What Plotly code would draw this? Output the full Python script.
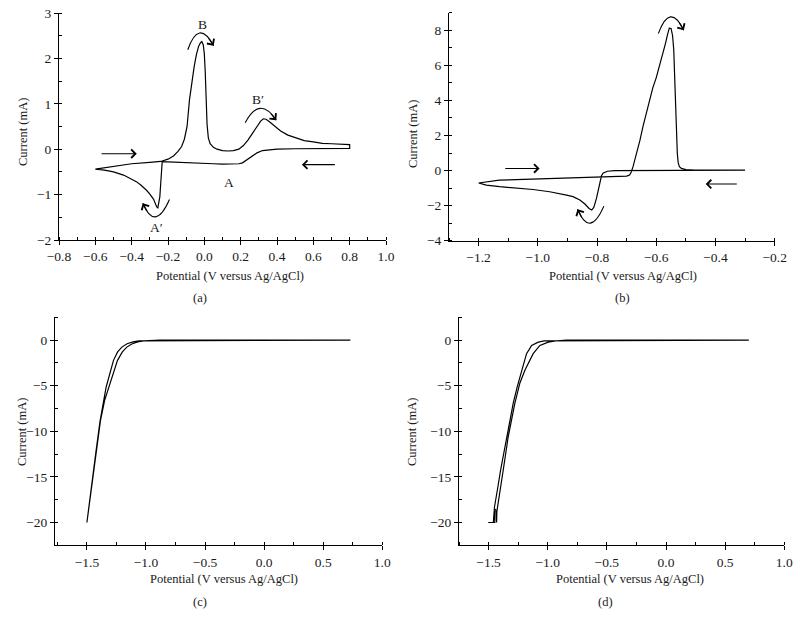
import plotly.graph_objects as go

# ---------------- data ----------------
# (a) cyclic voltammogram
a_fwd_x = [-0.6, -0.5, -0.4, -0.3, -0.24, -0.2, -0.17, -0.145, -0.125, -0.11, -0.095, -0.082, -0.068,
           -0.056, -0.044, -0.032, -0.022, -0.014, -0.006, 0.0, 0.005, 0.01, 0.015, 0.022, 0.032, 0.05,
           0.07, 0.1, 0.13, 0.16, 0.19, 0.215, 0.24, 0.265, 0.29, 0.31, 0.325, 0.34, 0.36, 0.39, 0.42,
           0.46, 0.5, 0.55, 0.6, 0.65, 0.7, 0.75, 0.8]
a_fwd_y = [-0.44, -0.38, -0.32, -0.29, -0.27, -0.22, -0.15, -0.05, 0.06, 0.22, 0.5, 1.08, 1.5,
           1.82, 2.08, 2.26, 2.34, 2.37, 2.3, 2.1, 1.7, 1.08, 0.55, 0.25, 0.12, 0.04,
           0.0, -0.03, -0.04, -0.03, 0.0, 0.08, 0.2, 0.35, 0.5, 0.62, 0.67, 0.66, 0.6, 0.49, 0.4,
           0.31, 0.25, 0.19, 0.16, 0.13, 0.12, 0.11, 0.1]
a_rev_x = [0.8, 0.7, 0.6, 0.5, 0.4, 0.35, 0.32, 0.29, 0.26, 0.234, 0.21, 0.19, 0.15, 0.1, 0.05, 0.0,
           -0.05, -0.1, -0.15, -0.2, -0.232, -0.236, -0.24, -0.245, -0.25, -0.256, -0.262, -0.27,
           -0.28, -0.3, -0.317, -0.35, -0.372, -0.4, -0.445, -0.5, -0.55, -0.6]
a_rev_y = [0.02, 0.02, 0.01, 0.01, 0.0, -0.01, -0.03, -0.08, -0.16, -0.24, -0.3, -0.32, -0.33, -0.33,
           -0.32, -0.31, -0.3, -0.3, -0.29, -0.28, -0.28, -0.45, -0.75, -1.05, -1.22, -1.29, -1.27,
           -1.2, -1.1, -0.99, -0.91, -0.79, -0.72, -0.66, -0.57, -0.5, -0.46, -0.44]

# (b) cyclic voltammogram
b_fwd_x = [-1.2, -1.13, -1.02, -0.9, -0.79, -0.72, -0.7, -0.69, -0.684, -0.678, -0.672, -0.664, -0.655,
           -0.645, -0.634, -0.624, -0.612, -0.6, -0.59, -0.58, -0.569, -0.562, -0.556, -0.55, -0.545,
           -0.541, -0.538, -0.535, -0.532, -0.529, -0.526, -0.522, -0.515, -0.5, -0.47, -0.4, -0.3]
b_fwd_y = [-0.71, -0.55, -0.49, -0.43, -0.39, -0.35, -0.32, -0.25, -0.07, 0.25, 0.6, 1.1, 1.73,
           2.5, 3.25, 4.0, 4.7, 5.3, 5.9, 6.6, 7.24, 7.75, 8.12, 8.1, 7.7,
           6.9, 5.7, 4.2, 2.5, 1.0, 0.45, 0.22, 0.12, 0.06, 0.03, 0.02, 0.02]
b_rev_x = [-0.3, -0.4, -0.5, -0.6, -0.7, -0.74, -0.765, -0.774, -0.78, -0.785, -0.793, -0.802, -0.811,
           -0.818, -0.827, -0.841, -0.858, -0.881, -0.903, -0.96, -1.016, -1.073, -1.129, -1.174, -1.2]
b_rev_y = [0.02, 0.02, 0.02, 0.01, 0.0, -0.01, -0.04, -0.08, -0.15, -0.3, -0.92, -1.59, -2.1,
           -2.25, -2.16, -1.91, -1.68, -1.49, -1.4, -1.21, -1.08, -1.02, -0.92, -0.83, -0.71]

# (c) linear sweep, two branches
c_br1_x = [0.73, 0.2, -0.3, -0.7, -0.9, -1.0, -1.06, -1.11, -1.16, -1.204, -1.24, -1.275, -1.305,
           -1.337, -1.36, -1.39, -1.425, -1.465, -1.5]
c_br1_y = [0, 0, 0, 0, 0, -0.03, -0.08, -0.2, -0.4, -0.77, -1.3, -2.22, -3.5,
           -5.14, -6.8, -9.0, -12.4, -16.2, -20]
c_br2_x = [-1.5, -1.465, -1.425, -1.385, -1.35, -1.314, -1.28, -1.241, -1.2, -1.162, -1.12, -1.07,
           -1.02, -0.96, -0.88, -0.7, -0.3, 0.2, 0.73]
c_br2_y = [-20, -16.3, -12.5, -8.8, -6.6, -5.14, -3.7, -2.22, -1.3, -0.77, -0.42, -0.2,
           -0.09, -0.03, 0, 0, 0, 0, 0]

# (d) linear sweep, two branches
d_br1_x = [0.7, 0.0, -0.6, -0.9, -0.98, -1.03, -1.08, -1.136, -1.179, -1.221, -1.258, -1.292, -1.348,
           -1.398, -1.42, -1.45, -1.46, -1.503]
d_br1_y = [0, 0, 0, 0, -0.02, -0.08, -0.22, -0.58, -1.49, -3.31, -5.13, -6.95, -10.6,
           -14.24, -16.0, -18.3, -20, -20]
d_br2_x = [-1.503, -1.447, -1.452, -1.44, -1.432, -1.43, -1.376, -1.334, -1.278, -1.241, -1.235,
           -1.193, -1.123, -1.066, -0.996, -0.92, -0.84, -0.6, 0.0, 0.7]
d_br2_y = [-20, -20, -18.5, -18.6, -20, -18.8, -14.24, -10.6, -6.95, -5.13, -4.7,
           -3.31, -1.49, -0.58, -0.22, -0.07, -0.01, 0, 0, 0]

x_title = "Potential (V versus Ag/AgCl)"
y_title = "Current (mA)"
panel_labels = ["(a)", "(b)", "(c)", "(d)"]

# ---------------- figure ----------------
W, H = 800, 618
FONT = "Liberation Serif, Times New Roman, serif"
TXT = "#1a1a1a"


def px(x):
    return x / W


def py(y):
    return 1 - y / H


fig = go.Figure()
series = [
    (a_fwd_x + a_rev_x, a_fwd_y + a_rev_y, "x", "y"),
    (b_fwd_x + b_rev_x, b_fwd_y + b_rev_y, "x2", "y2"),
    (c_br1_x + c_br2_x, c_br1_y + c_br2_y, "x3", "y3"),
    (d_br1_x + d_br2_x, d_br1_y + d_br2_y, "x4", "y4"),
]
for xs, ys, xa, ya in series:
    fig.add_trace(go.Scatter(x=xs, y=ys, mode="lines", xaxis=xa, yaxis=ya,
                             line=dict(color="black", width=1.2), showlegend=False,
                             hoverinfo="skip"))


def axis(domain, rng, dtick, minor_dtick, anchor, tick0=0, fmt=None):
    d = dict(domain=domain, range=rng, anchor=anchor, showgrid=False, zeroline=False,
             automargin=False,
             showline=True, linecolor="black", linewidth=1, ticks="outside", ticklen=4,
             tickcolor="black", tickwidth=1, tick0=tick0, dtick=dtick,
             minor=dict(ticks="inside", ticklen=3, dtick=minor_dtick, tickcolor="black",
                        showgrid=False),
             tickfont=dict(family=FONT, size=13.5, color=TXT), fixedrange=True)
    if fmt:
        d["tickformat"] = fmt
    return d


fig.update_layout(
    width=W, height=H, margin=dict(l=0, r=0, t=0, b=0, autoexpand=False),
    paper_bgcolor="white", plot_bgcolor="white",
    xaxis=axis([px(59), px(386)], [-0.8, 1.0], 0.2, 0.1, "y", fmt=".1f"),
    yaxis=axis([py(240), py(13)], [-2, 3], 1, 0.5, "x"),
    xaxis2=axis([px(449), px(774.7)], [-1.3, -0.2], 0.2, 0.1, "y2", tick0=-1.2, fmt=".1f"),
    yaxis2=axis([py(240.7), py(12.7)], [-4, 9], 2, 1, "x2"),
    xaxis3=axis([px(55), px(382.3)], [-1.77, 1.0], 0.5, 0.25, "y3", fmt=".1f"),
    yaxis3=axis([py(545.3), py(317.3)], [-22.5, 2.5], 5, 2.5, "x3"),
    xaxis4=axis([px(459), px(784.3)], [-1.75, 1.0], 0.5, 0.25, "y4", fmt=".1f"),
    yaxis4=axis([py(545.3), py(317.3)], [-22.5, 2.5], 5, 2.5, "x4"),
)

annotations = []
shapes = []


def label(text, x, y, size=12.5, angle=0):
    annotations.append(dict(text=text, x=px(x), y=py(y), xref="paper", yref="paper",
                            showarrow=False, textangle=angle,
                            font=dict(family=FONT, size=size, color=TXT),
                            xanchor="center", yanchor="middle"))


# axis titles and panel labels
x_title_pos = [(230, 276), (623, 276), (224, 579), (630, 579)]
y_title_pos = [(23, 132), (413, 134), (22, 432), (412, 432)]
panel_pos = [(200, 298), (622, 298), (200, 602), (605, 602)]
for (xx, yy) in x_title_pos:
    label(x_title, xx, yy)
for (xx, yy) in y_title_pos:
    label(y_title, xx, yy, angle=-90)
for t, (xx, yy) in zip(panel_labels, panel_pos):
    label(t, xx, yy)


def data_text(text, x, y, xr, yr):
    annotations.append(dict(text=text, x=x, y=y, xref=xr, yref=yr, showarrow=False,
                            font=dict(family=FONT, size=13.5, color=TXT)))


def straight_arrow(x0, y0, x1, y1, xr, yr):
    annotations.append(dict(text="", x=x1, y=y1, ax=x0, ay=y0, xref=xr, yref=yr,
                            axref=xr, ayref=yr, showarrow=True, arrowhead=4,
                            arrowsize=1.5, arrowwidth=1.1, arrowcolor="black"))


def curved_arrow(p0, top, p1, xr, yr):
    cx = 2 * top[0] - (p0[0] + p1[0]) / 2
    cy = 2 * top[1] - (p0[1] + p1[1]) / 2
    shapes.append(dict(type="path", xref=xr, yref=yr,
                       path=f"M {p0[0]},{p0[1]} Q {cx},{cy} {p1[0]},{p1[1]}",
                       line=dict(color="black", width=1.1)))
    t = 0.8
    bx = (1 - t) ** 2 * p0[0] + 2 * (1 - t) * t * cx + t ** 2 * p1[0]
    by = (1 - t) ** 2 * p0[1] + 2 * (1 - t) * t * cy + t ** 2 * p1[1]
    annotations.append(dict(text="", x=p1[0], y=p1[1], ax=bx, ay=by, xref=xr, yref=yr,
                            axref=xr, ayref=yr, showarrow=True, arrowhead=4,
                            arrowsize=1.5, arrowwidth=1.1, arrowcolor="black"))


# panel (a) markers
data_text("B", -0.008, 2.74, "x", "y")
data_text("B\u2032", 0.295, 1.1, "x", "y")
data_text("A\u2032", -0.265, -1.72, "x", "y")
data_text("A", 0.133, -0.74, "x", "y")
curved_arrow((-0.091, 2.19), (-0.026, 2.56), (0.051, 2.28), "x", "y")
curved_arrow((0.225, 0.58), (0.307, 0.9), (0.396, 0.64), "x", "y")
curved_arrow((-0.192, -1.11), (-0.268, -1.49), (-0.339, -1.19), "x", "y")
straight_arrow(-0.574, -0.1, -0.372, -0.1, "x", "y")
straight_arrow(0.727, -0.34, 0.537, -0.34, "x", "y")

# panel (b) markers
curved_arrow((-0.593, 7.81), (-0.552, 8.76), (-0.507, 8.0), "x2", "y2")
curved_arrow((-0.777, -2.03), (-0.823, -3.0), (-0.866, -2.21), "x2", "y2")
straight_arrow(-1.115, 0.12, -0.994, 0.12, "x2", "y2")
straight_arrow(-0.323, -0.77, -0.433, -0.77, "x2", "y2")

fig.update_layout(annotations=annotations, shapes=shapes)
fig.write_html(
    "out.html",
    config={"displayModeBar": False},
    post_script="document.body.style.margin='0';document.documentElement.style.overflow='hidden';",
)
